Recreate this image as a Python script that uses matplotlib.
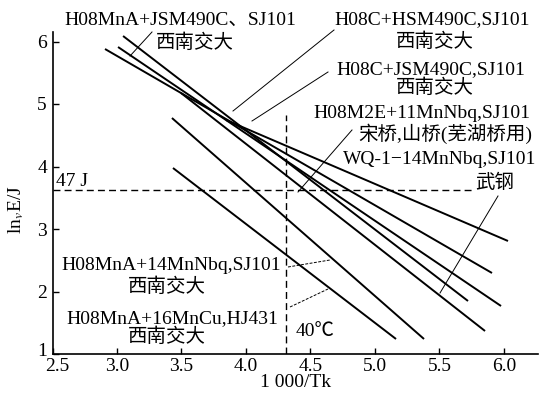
import matplotlib
matplotlib.use("Agg")
import matplotlib.pyplot as plt
from matplotlib.transforms import offset_copy

plt.rcParams['font.family'] = ['Liberation Serif', 'Noto Sans CJK SC', 'DejaVu Sans']
plt.rcParams['mathtext.fontset'] = 'stix'

# Data: straight lines (start x, start y, end x, end y)
upper_x1 = [3.047, 3.008, 2.907, 3.496, 3.845]
upper_y1 = [6.088, 5.912, 5.880, 5.176, 4.744]
upper_x2 = [5.721, 5.977, 5.907, 5.853, 6.031]
upper_y2 = [1.848, 1.768, 2.296, 1.368, 2.808]
lower_x1 = [3.426, 3.434]
lower_y1 = [4.776, 3.976]
lower_x2 = [5.380, 5.163]
lower_y2 = [1.240, 1.240]
ref_energy_y = 3.62   # 47 J
ref_temp_x = 4.31     # 40 °C
x_ticks = [2.5, 3.0, 3.5, 4.0, 4.5, 5.0, 5.5, 6.0]
x_tick_labels = ["2.5", "3.0", "3.5", "4.0", "4.5", "5.0", "5.5", "6.0"]
y_ticks = [1, 2, 3, 4, 5, 6]
y_tick_labels = ["1", "2", "3", "4", "5", "6"]

W, H = 549, 398
fig = plt.figure(figsize=(W / 100, H / 100), dpi=100)
L, R, T, B = 52.5, 538, 32, 354
ax = fig.add_axes([L / W, 1 - B / H, (R - L) / W, (B - T) / H])
ax.set_xlim(2.5, 2.5 + (R - L) / 129)
ax.set_ylim(1, 1 + (B - T) / 62.5)

def p2d(px, py):
    return 2.5 + (px - L) / 129, 1 + (B - py) / 62.5

for x1, y1, x2, y2 in zip(upper_x1, upper_y1, upper_x2, upper_y2):
    ax.plot([x1, x2], [y1, y2], color='black', lw=1.4, solid_capstyle='butt')
for x1, y1, x2, y2 in zip(lower_x1, lower_y1, lower_x2, lower_y2):
    ax.plot([x1, x2], [y1, y2], color='black', lw=1.4, solid_capstyle='butt')

# reference dashed lines
xe = p2d(475, 0)[0]
ax.plot([2.5, xe], [ref_energy_y, ref_energy_y], color='black', lw=1.0, ls=(0, (5, 3)))
yt = p2d(0, 115)[1]
ax.plot([ref_temp_x, ref_temp_x], [1, yt], color='black', lw=1.0, ls=(0, (5, 3)))

for s in ['top', 'right']:
    ax.spines[s].set_visible(False)
for s in ['left', 'bottom']:
    ax.spines[s].set_linewidth(1.2)
ax.set_xticks(x_ticks)
ax.set_xticklabels([""] + x_tick_labels[1:])
ax.set_yticks(y_ticks)
ax.set_yticklabels([""] + y_tick_labels[1:])
ax.tick_params(direction='in', length=4, width=1, labelsize=14)
ax.tick_params(axis='y', pad=4)
ax.tick_params(axis='x', pad=3)
# corner tick labels, nudged apart as in the reference
ax.text(x_ticks[0], y_ticks[0], x_tick_labels[0], fontsize=14, ha='center', va='top',
        transform=offset_copy(ax.transData, fig=fig, x=5, y=-4, units='dots'))
ax.text(x_ticks[0], y_ticks[0], y_tick_labels[0], fontsize=14, ha='right', va='center',
        transform=offset_copy(ax.transData, fig=fig, x=-5, y=3, units='dots'))
ax.set_xlabel("1 000/Tk", fontsize=14, labelpad=-1)
ax.set_ylabel(r"ln$_v$E/J", fontsize=14)
ax.yaxis.set_label_coords(-0.055, 0.45)

def ftext(px, py, s, ha='center', size=14):
    fig.text(px / W, 1 - py / H, s, ha=ha, va='center', fontsize=size)

def leader(p1, p2, ls='-'):
    a = p2d(*p1)
    b = p2d(*p2)
    ax.plot([a[0], b[0]], [a[1], b[1]], color='black', lw=0.7, ls=ls, clip_on=False)

ftext(180, 20, "H08MnA+JSM490C、SJ101")
ftext(195, 43, "西南交大")
leader((152, 32), (130, 56))

ftext(432, 20, "H08C+HSM490C,SJ101")
ftext(435, 42, "西南交大")
leader((334, 30), (233, 111))

ftext(431, 70, "H08C+JSM490C,SJ101")
ftext(435, 88, "西南交大")
leader((328, 72), (252, 121))

ftext(422, 113, "H08M2E+11MnNbq,SJ101")
ftext(445, 134, "宋桥,山桥(芜湖桥用)")
leader((352, 130), (298, 192))

ftext(440, 160, "WQ-1−14MnNbq,SJ101")
ftext(495, 183, "武钢")
leader((498, 196), (440, 293))

ftext(171, 265, "H08MnA+14MnNbq,SJ101")
ftext(167, 287, "西南交大")
leader((288, 267), (330, 260), ls=(0, (3, 1.5)))

ftext(172, 319, "H08MnA+16MnCu,HJ431")
ftext(167, 337, "西南交大")
leader((290, 307), (328, 289), ls=(0, (3, 1.5)))

ftext(56, 182, "47 J", ha='left')
ftext(296, 332, "40℃", ha='left')

fig.savefig("out.png", dpi=100)
